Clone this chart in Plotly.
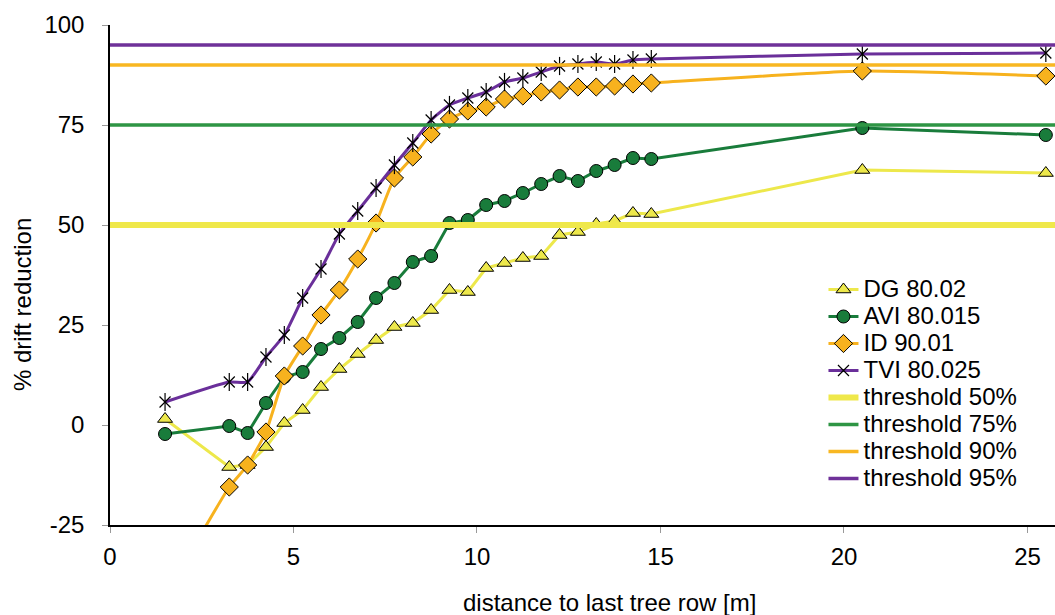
import plotly.graph_objects as go

x_dist = [1.5, 3.25, 3.75, 4.25, 4.75, 5.25, 5.75, 6.25, 6.75, 7.25, 7.75, 8.25, 8.75,
          9.25, 9.75, 10.25, 10.75, 11.25, 11.75, 12.25, 12.75, 13.25, 13.75, 14.25,
          14.75, 20.5, 25.5]

dg_80_02 = [1.5, -10.5, -10, -5.5, 0.5, 3.75, 9.5, 14, 17.75, 21.25, 24.5, 25.5, 28.75,
            33.75, 33.25, 39.25, 40.5, 41.75, 42.25, 47.5, 48.25, 50.25, 51, 53, 52.75,
            63.75, 63]
avi_80_015 = [-2.25, -0.25, -2, 5.5, 12, 13.25, 19, 21.75, 25.75, 31.75, 35.5, 40.75, 42.25,
              50.5, 51.25, 55, 56, 58, 60.25, 62.25, 61, 63.5, 65, 66.75, 66.5, 74.25, 72.5]
id_90_01 = [-43, -15.5, -10, -1.75, 12.25, 19.75, 27.5, 33.75, 41.5, 50.5, 61.75, 67, 72.75,
            76.5, 78.5, 79.5, 81.5, 82.25, 83.25, 83.75, 84.5, 84.5, 84.75, 85.25, 85.5,
            88.5, 87.25]
tvi_80_025 = [5.75, 10.75, 10.75, 17, 22.5, 31.75, 39, 47.75, 53.5, 59.25, 65, 70.5, 76.25,
              80, 81.75, 83.25, 85.75, 86.75, 88.25, 89.75, 90.25, 90.75, 90.25, 91.25, 91.5,
              92.75, 93]

thresholds = [50, 75, 90, 95]
threshold_names = ["threshold 50%", "threshold 75%", "threshold 90%", "threshold 95%"]
threshold_colors = ["#EFE84A", "#2E9544", "#F8B722", "#6F3199"]
threshold_widths = [6, 3.5, 3.5, 3.5]

x_ticks = [0, 5, 10, 15, 20, 25]
y_ticks = [-25, 0, 25, 50, 75, 100]
y_ticktext = ["-25", "0", "25", "50", "75", "100"]

x_range = [0, 25.75]
y_range = [-25, 100]

YEL = "#EDE84B"
GRN = "#197C3B"
ORG = "#F7B21E"
PUR = "#6A2F9A"


def lg(name):
    return '<span style="font-size:24px">%s</span>' % name


fig = go.Figure()

fig.add_trace(go.Scatter(
    x=x_dist, y=dg_80_02, name=lg("DG 80.02"), mode="lines+markers", legendgroup="g",
    line=dict(color=YEL, width=3),
    marker=dict(symbol="triangle-up", size=13, color=YEL, line=dict(color="black", width=1))))
fig.add_trace(go.Scatter(
    x=x_dist, y=avi_80_015, name=lg("AVI 80.015"), mode="lines+markers", legendgroup="g",
    line=dict(color=GRN, width=3),
    marker=dict(symbol="circle", size=13, color=GRN, line=dict(color="black", width=1))))
fig.add_trace(go.Scatter(
    x=x_dist, y=id_90_01, name=lg("ID 90.01"), mode="lines+markers", legendgroup="g",
    line=dict(color=ORG, width=3, shape="spline", smoothing=0.5),
    marker=dict(symbol="diamond", size=14, color=ORG, line=dict(color="black", width=1))))
fig.add_trace(go.Scatter(
    x=x_dist, y=tvi_80_025, name=lg("TVI 80.025"), mode="lines+markers", legendgroup="g",
    line=dict(color=PUR, width=3, shape="spline", smoothing=0.5),
    marker=dict(symbol="x-thin-open", size=11, color="black", line=dict(color="black", width=1.2))))
fig.add_trace(go.Scatter(
    x=x_dist, y=tvi_80_025, name="TVI 80.025", mode="markers", legendgroup="g", showlegend=False,
    marker=dict(symbol="line-ns-open", size=13, color="black", line=dict(color="black", width=1.2))))

for t, nm, c, w in zip(thresholds, threshold_names, threshold_colors, threshold_widths):
    fig.add_trace(go.Scatter(
        x=x_range, y=[t, t], name=lg(nm), mode="lines", legendgroup="g",
        line=dict(color=c, width=w)))

axis_common = dict(showgrid=False, zeroline=False, showline=True, linecolor="black",
                   linewidth=1.5, ticks="outside", ticklen=6, tickcolor="#999999",
                   tickfont=dict(size=24))

fig.update_layout(
    width=1055, height=615,
    margin=dict(l=110, r=0, t=25, b=90),
    paper_bgcolor="white", plot_bgcolor="white",
    font=dict(family="Liberation Sans, Arial, sans-serif", size=24, color="black"),
    showlegend=True,
    legend=dict(x=0.755, y=0.508, xanchor="left", yanchor="top",
                bgcolor="rgba(0,0,0,0)", font=dict(size=18.46), tracegroupgap=0,
                itemwidth=30),
    xaxis=dict(range=x_range, tickvals=x_ticks, ticklabelstandoff=3, **axis_common),
    yaxis=dict(range=y_range, tickvals=y_ticks, ticktext=y_ticktext,
               ticklabelstandoff=13, **axis_common),
    annotations=[
        dict(text="distance to last tree row [m]", xref="paper", yref="paper",
             x=0.529, y=-0.155, xanchor="center", yanchor="middle", showarrow=False,
             font=dict(size=24)),
        dict(text="% drift reduction", xref="paper", yref="paper", textangle=-90,
             x=-0.093, y=0.44, xanchor="center", yanchor="middle", showarrow=False,
             font=dict(size=24)),
    ],
)

fig.write_html("out.html")
